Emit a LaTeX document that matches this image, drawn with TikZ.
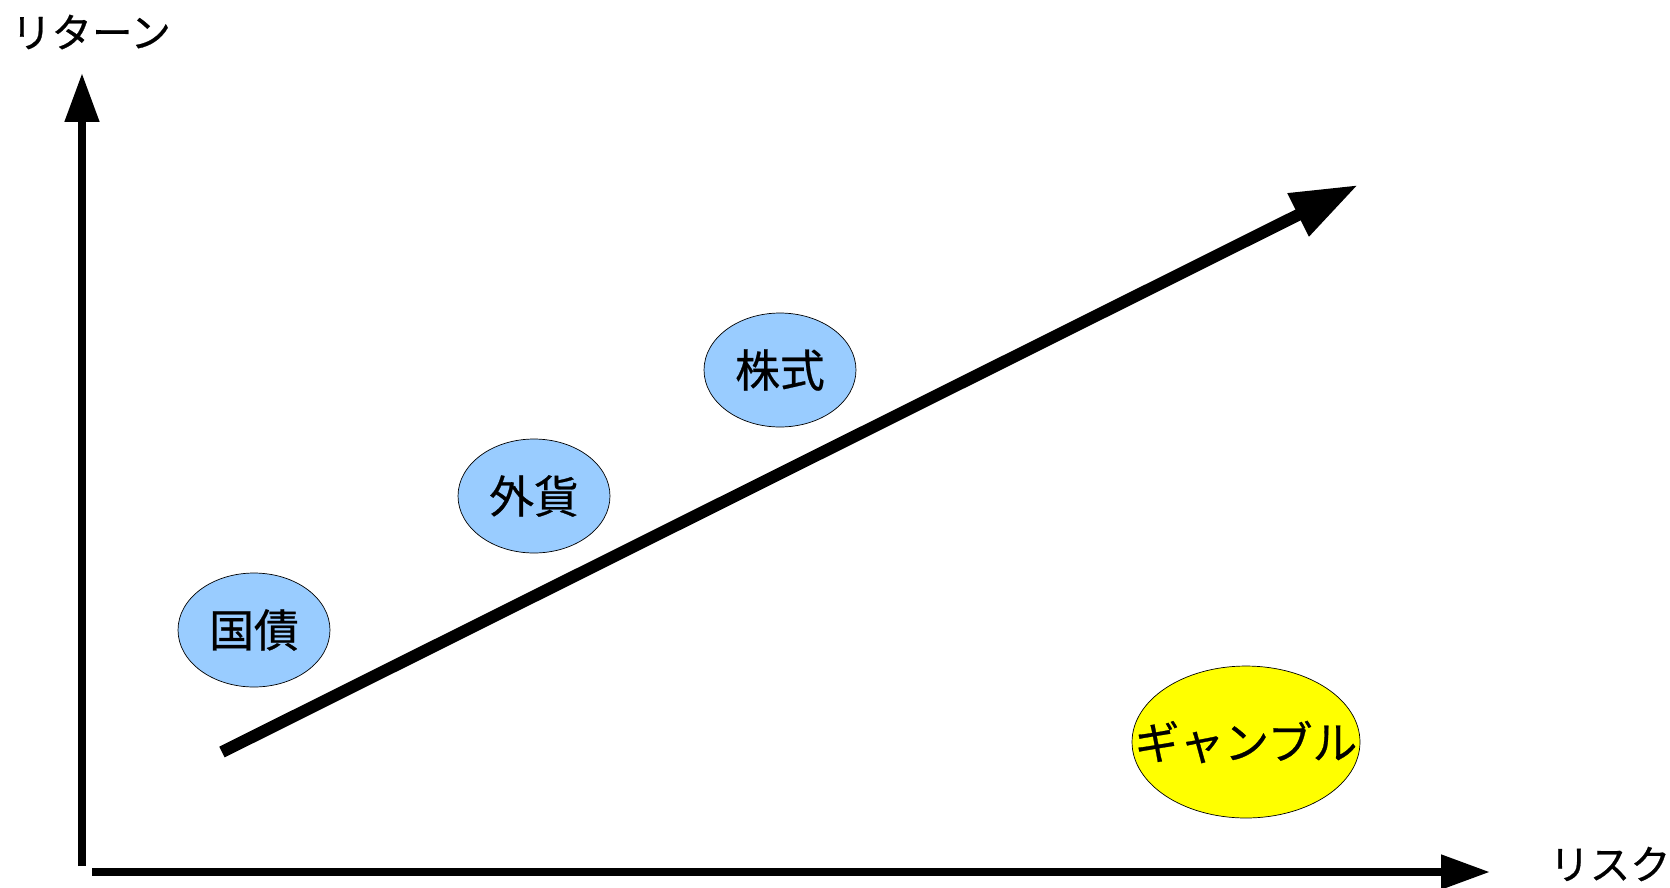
\documentclass[tikz,border=0pt]{standalone}
\usepackage{fontspec}
\setmainfont{Noto Sans CJK JP}[FakeBold=0.6]
\usetikzlibrary{arrows.meta, shapes.geometric}
\definecolor{lightblue}{HTML}{99CCFF}
\definecolor{gambleyellow}{HTML}{FFFF00}

\begin{document}
\begin{tikzpicture}[line join=miter,x=0.02cm,y=-0.02cm,
  asset/.style={ellipse,draw,thin,fill=lightblue,inner sep=0pt,minimum width=3.04cm,minimum height=2.28cm,font=\fontsize{25.5pt}{30pt}\selectfont},
  axislabel/.style={font=\fontsize{23pt}{27pt}\selectfont}]
\useasboundingbox (0,0) rectangle (1670,887);

% Axes
\coordinate (O) at (82,866);
\coordinate (Y) at (82,73);
\coordinate (X0) at (92,872);
\coordinate (X) at (1490,872);
\draw [line width=0.16cm, -{Triangle[length=0.98cm,width=0.66cm]}] (O) -- (Y);
\draw [line width=0.16cm, -{Triangle[length=0.98cm,width=0.66cm]}] (X0) -- (X);

% Trend
\coordinate (T0) at (222,752);
\coordinate (T1) at (1358,185);
\draw [line width=0.24cm, -{Triangle[length=1.34cm,width=0.9cm]}] (T0) -- (T1);

% Labels
\node [axislabel] (ret) at (91,32) {リターン};
\node [axislabel] (risk) at (1610,864) {リスク};

% Assets
\node [asset] (bond) at (254,630) {国債};
\node [asset] (fx) at (534,496) {外貨};
\node [asset] (stock) at (780,370) {株式};
\node [asset, fill=gambleyellow, inner xsep=-0.62cm, minimum width=4.56cm, minimum height=3.04cm] (gamble) at (1246,742) {ギャンブル};
\end{tikzpicture}
\end{document}
